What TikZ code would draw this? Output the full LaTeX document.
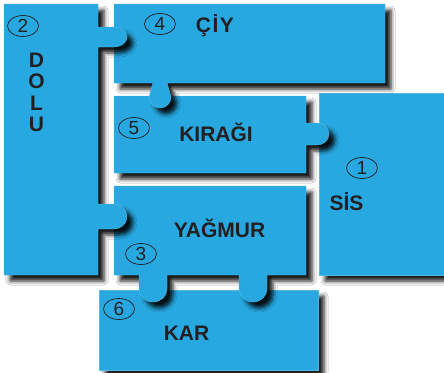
\documentclass[tikz,border=0pt]{standalone}
\usepackage{fontspec}
\setmainfont{Liberation Sans}
\usetikzlibrary{shapes.geometric,shadows.blur}
\definecolor{piece}{HTML}{27A8E0}
\definecolor{ink}{HTML}{231F20}
\begin{document}
\begin{tikzpicture}[x=1pt,y=-1pt,
  puzzle/.style={fill=piece, draw=piece!80!white, line width=0.4pt,
    blur shadow={shadow xshift=6pt, shadow yshift=-6pt, shadow blur radius=4pt, shadow opacity=90}},
  num/.style={ellipse, draw=ink, line width=0.7pt, minimum width=31pt, minimum height=21pt, inner sep=0pt,
    font=\fontsize{19}{19}\selectfont, text=ink},
  lbl/.style={anchor=base, inner sep=0pt, font=\bfseries\fontsize{21}{21}\selectfont, text=ink}]
\fill[white] (0,0) rectangle (444,372);
\useasboundingbox (0,0) rectangle (444,372);
% KAR
\path[puzzle] (99,290) rectangle (318,370);
% SIS
\path[puzzle] (319,93) rectangle (470,275);
% YAGMUR
\path[puzzle] (114,186) -- (306,186) -- (306,275) -- (267,275) -- (267,289)
  arc[start angle=0,end angle=180,x radius=14,y radius=13] -- (239,275) -- (167,275) -- (167,289)
  arc[start angle=0,end angle=180,x radius=14,y radius=13] -- (139,275) -- (114,275) -- cycle;
% KIRAGI
\path[puzzle] (114,96) -- (306,96) -- (306,123) -- (317,123)
  arc[start angle=-90,end angle=90,x radius=12,y radius=11] -- (306,145) -- (306,173) -- (114,173) -- cycle;
% CIY
\path[puzzle] (114,4) -- (385,4) -- (385,83) -- (167,83) -- (171,97)
  arc[start angle=0,end angle=180,radius=11] -- (153,83) -- (114,83) -- cycle;
% DOLU
\path[puzzle] (4,4) -- (98,4) -- (98,27) -- (114,27)
  arc[start angle=-90,end angle=90,x radius=13,y radius=10] -- (98,47) -- (98,204) -- (114,204)
  arc[start angle=-90,end angle=90,x radius=13,y radius=12.5] -- (98,229) -- (98,275) -- (4,275) -- cycle;
% labels
\node[num] (n2) at (23,26) {2};
\node[lbl] (d1) at (36.5,67) {D};
\node[lbl] (d2) at (36.5,88.5) {O};
\node[lbl] (d3) at (36.5,110) {L};
\node[lbl] (d4) at (36.5,131) {U};
\node[num] (n4) at (160,24) {4};
\node[lbl] (ciy) at (215,32) {Ç\kern1.5ptİ\kern1.5ptY};
\node[num] (n5) at (134,128) {5};
\node[lbl] (kiragi) at (216,141) {KIRAĞI};
\node[num] (n1) at (362,168) {1};
\node[lbl] (sis) at (346.5,210) {SİS};
\node[lbl] (yagmur) at (219.5,237) {YAĞMUR};
\node[num] (n3) at (141,254) {3};
\node[num] (n6) at (119,309) {6};
\node[lbl] (kar) at (186.5,340) {KAR};
\end{tikzpicture}
\end{document}
